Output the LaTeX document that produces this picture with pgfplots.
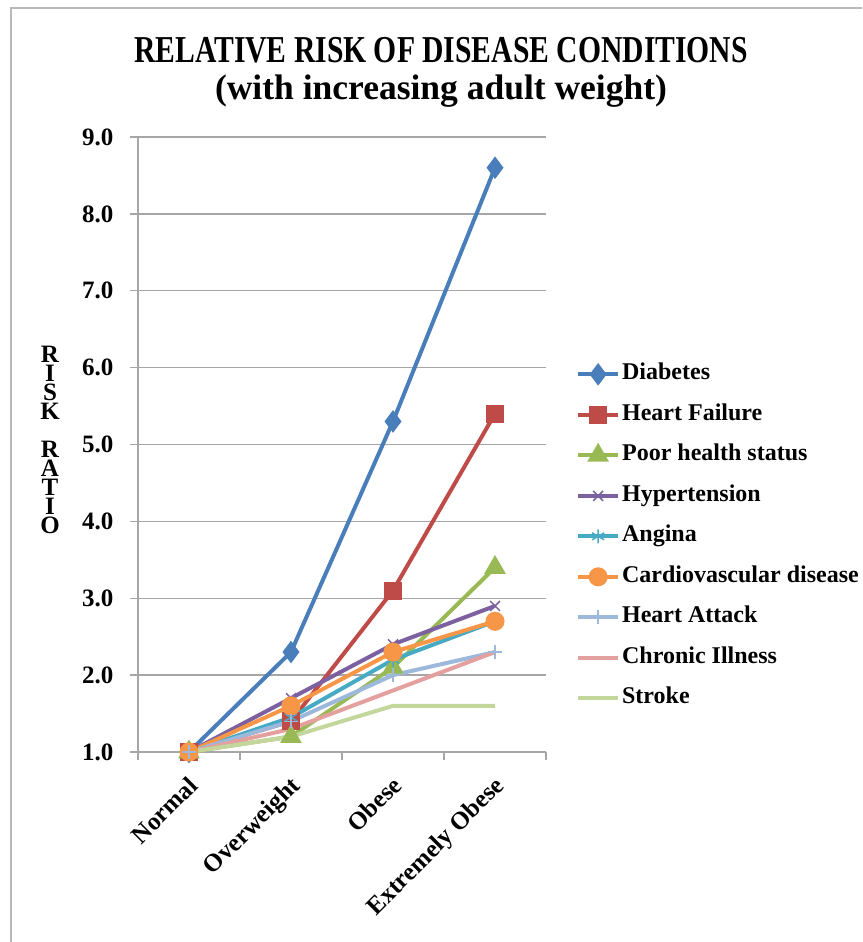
\documentclass[border=0pt]{standalone}
\usepackage{fontspec}
\setmainfont{Liberation Serif}
\newfontfamily\titlefont[FakeStretch=0.78]{Liberation Serif}
\usepackage{pgfplots}
\pgfplotsset{compat=1.18}
\definecolor{cDia}{HTML}{4A7EBB}
\definecolor{cHF}{HTML}{BE4B48}
\definecolor{cPH}{HTML}{98B954}
\definecolor{cHyp}{HTML}{7D60A0}
\definecolor{cAng}{HTML}{46AAC5}
\definecolor{cCVD}{HTML}{F79646}
\definecolor{cHA}{HTML}{9CB9DC}
\definecolor{cCI}{HTML}{E3A09E}
\definecolor{cStr}{HTML}{C3D69B}
\definecolor{axgray}{HTML}{A6A6A6}
\begin{document}
\begin{tikzpicture}[x=1pt,y=1pt]
\useasboundingbox (0,0) rectangle (862,942);
\draw[color=axgray!80, line width=2pt] (11,0) -- (11,934) -- (862,934);
\node[font=\titlefont\bfseries\fontsize{38}{40}\selectfont] at (441,892) {RELATIVE RISK OF DISEASE CONDITIONS};
\node[font=\bfseries\fontsize{35.5}{40}\selectfont] at (441,851) {(with increasing adult weight)};
\node[align=center, anchor=north, inner sep=0pt, font=\bfseries\fontsize{25}{19}\selectfont] at (50,596) {R\\I\\S\\K\\[19pt]R\\A\\T\\I\\O};
\begin{axis}[
  at={(138pt,190pt)}, anchor=south west, scale only axis,
  width=408pt, height=615pt,
  xmin=-0.5, xmax=3.5, ymin=1, ymax=9,
  axis lines=left, axis line style={-, draw=axgray, line width=1.3pt},
  ymajorgrids, grid style={axgray, line width=1.3pt},
  ytick={1,2,...,9},
  xtick={0,1,2,3},
  xticklabels={Normal,Overweight,Obese,Extremely Obese},
  minor xtick={-0.5,0.5,1.5,2.5,3.5},
  tick align=outside,
  major tick length=8pt, minor tick length=8pt,
  tick style={axgray, line width=1.3pt},
  major x tick style={draw=none},
  /pgf/number format/assume math mode=true,
  yticklabel style={/pgf/number format/.cd, fixed, fixed zerofill, precision=1, /tikz/.cd,
     font=\bfseries\fontsize{25}{25}\selectfont, xshift=-13pt},
  xticklabel style={xshift=-2pt, yshift=-10pt, rotate=45, anchor=north east, font=\bfseries\fontsize{25}{25}\selectfont},
  legend style={at={(1.066,0.638)}, anchor=north west, draw=none, fill=none,
     font=\bfseries\fontsize{24}{24}\selectfont,
     nodes={text height=16pt, text depth=5pt, inner sep=2pt},
     row sep=15.5pt, column sep=0pt},
  legend cell align=left,
  legend image code/.code={\draw[mark repeat=2, mark phase=2] plot coordinates {(0pt,0pt) (20pt,0pt) (40pt,0pt)};},
  every axis plot/.append style={line width=4pt},
  clip=false,
]
\addplot[cDia, mark=diamond*, mark size=8pt, mark options={solid}] coordinates {(0,1.0) (1,2.3) (2,5.3) (3,8.6)};
\addlegendentry{Diabetes}
\addplot[cHF, mark=square*, mark size=7pt] coordinates {(0,1.0) (1,1.4) (2,3.1) (3,5.4)};
\addlegendentry{Heart Failure}
\addplot[cPH, mark=triangle*, mark size=8.5pt] coordinates {(0,1.0) (1,1.2) (2,2.1) (3,3.4)};
\addlegendentry{Poor health status}
\addplot[cHyp, mark=x, mark size=7pt, mark options={line width=1.5pt}] coordinates {(0,1.0) (1,1.7) (2,2.4) (3,2.9)};
\addlegendentry{Hypertension}
\addplot[cAng, mark=asterisk, mark size=7pt, mark options={line width=1.5pt}] coordinates {(0,1.0) (1,1.45) (2,2.2) (3,2.7)};
\addlegendentry{Angina}
\addplot[cCVD, mark=*, mark size=7.5pt] coordinates {(0,1.0) (1,1.6) (2,2.3) (3,2.7)};
\addlegendentry{Cardiovascular disease}
\addplot[cHA, mark=+, mark size=7pt, mark options={line width=1.5pt}] coordinates {(0,1.0) (1,1.4) (2,2.0) (3,2.3)};
\addlegendentry{Heart Attack}
\addplot[cCI, mark=none] coordinates {(0,1.0) (1,1.3) (2,1.8) (3,2.3)};
\addlegendentry{Chronic Illness}
\addplot[cStr, mark=none] coordinates {(0,1.0) (1,1.2) (2,1.6) (3,1.6)};
\addlegendentry{Stroke}
\end{axis}
\end{tikzpicture}
\end{document}
